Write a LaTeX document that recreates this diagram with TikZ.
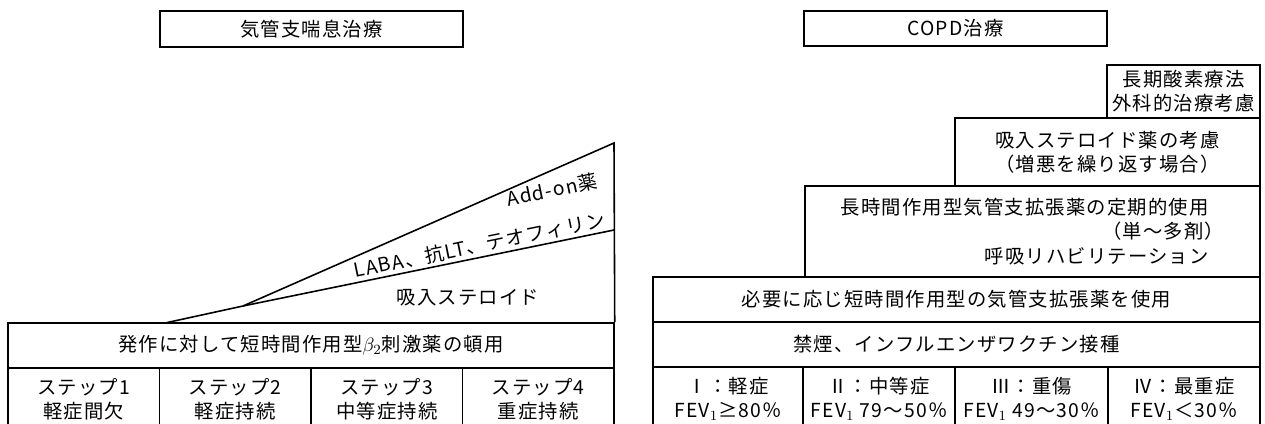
\documentclass[tikz,border=0pt]{standalone}
\usepackage{fontspec}
\setmainfont[LetterSpace=6]{Noto Sans CJK JP}
\begin{document}
\begin{tikzpicture}[x=0.02cm, y=-0.02cm, line width=0.9pt,
  every node/.style={font=\fontsize{11}{13.8}\selectfont, align=center, inner sep=0pt},
  box/.style={draw, line width=0.9pt}]
  \clip (0,0) rectangle (1265,423);
  % asthma side
  \node [box,minimum width=6.06cm,minimum height=0.72cm] (asthma) at (311.5,29) {気管支喘息治療};
  \node [box,minimum width=12.12cm,minimum height=0.9cm] (reliever) at (311,345.5) {発作に対して短時間作用型$\beta_2$刺激薬の頓用};
  \foreach \i/\t in {1/軽症間欠,2/軽症持続,3/中等症持続,4/重症持続}
    \node [box,minimum width=3.03cm,minimum height=1.24cm] (step\i) at ({8+151.5*(\i-0.5)},399) {ステップ\i\\\t};
  \coordinate (w0) at (165,323);
  \coordinate (w1) at (243,306);
  \coordinate (wtop) at (614,143);
  \coordinate (wmid) at (614,230);
  \draw (w0) -- (w1) -- (wtop) -- (reliever.north east);
  \draw (w1) -- (wmid) node [sloped,pos=0.985,above=1.5pt,anchor=south east] (laba) {LABA、抗LT、テオフィリン}
    node [sloped,pos=0.985,above=24pt,anchor=south east] (addon) {Add-on薬};
  \node (ics) at (468,298) {吸入ステロイド};
  % COPD side
  \node [box,minimum width=6.06cm,minimum height=0.7cm] (copd) at (955.5,28.5) {COPD治療};
  \node [box,minimum width=3.06cm,minimum height=1.06cm] (oxygen) at (1183.5,91.5) {長期酸素療法\\外科的治療考慮};
  \node [box,minimum width=6.1cm,minimum height=1.36cm] (icscopd) at (1107.5,152) {吸入ステロイド薬の考慮\\（増悪を繰り返す場合）};
  \node [box,minimum width=9.1cm,minimum height=1.82cm,align=right] (longact) at (1032.5,231.5) {長時間作用型気管支拡張薬の定期的使用\hspace*{0.8em}\\（単～多剤）\hspace*{1.6em}\\呼吸リハビリテーション\hspace*{0.8em}};
  \node [box,minimum width=12.14cm,minimum height=0.9cm] (shortact) at (956.5,299.5) {必要に応じ短時間作用型の気管支拡張薬を使用};
  \node [box,minimum width=12.14cm,minimum height=0.9cm] (smoking) at (956.5,344.5) {禁煙、インフルエンザワクチン接種};
  \node [box,minimum width=3cm,minimum height=1.26cm] (gold1) at (728,398.5) {Ⅰ：軽症\\FEV$_1$≥80％};
  \node [box,minimum width=3.04cm,minimum height=1.26cm] (gold2) at (879,398.5) {Ⅱ：中等症\\FEV$_1$ 79～50％};
  \node [box,minimum width=3.06cm,minimum height=1.26cm] (gold3) at (1031.5,398.5) {Ⅲ：重傷\\FEV$_1$ 49～30％};
  \node [box,minimum width=3.04cm,minimum height=1.26cm] (gold4) at (1184,398.5) {Ⅳ：最重症\\FEV$_1$＜30％};
\end{tikzpicture}
\end{document}
